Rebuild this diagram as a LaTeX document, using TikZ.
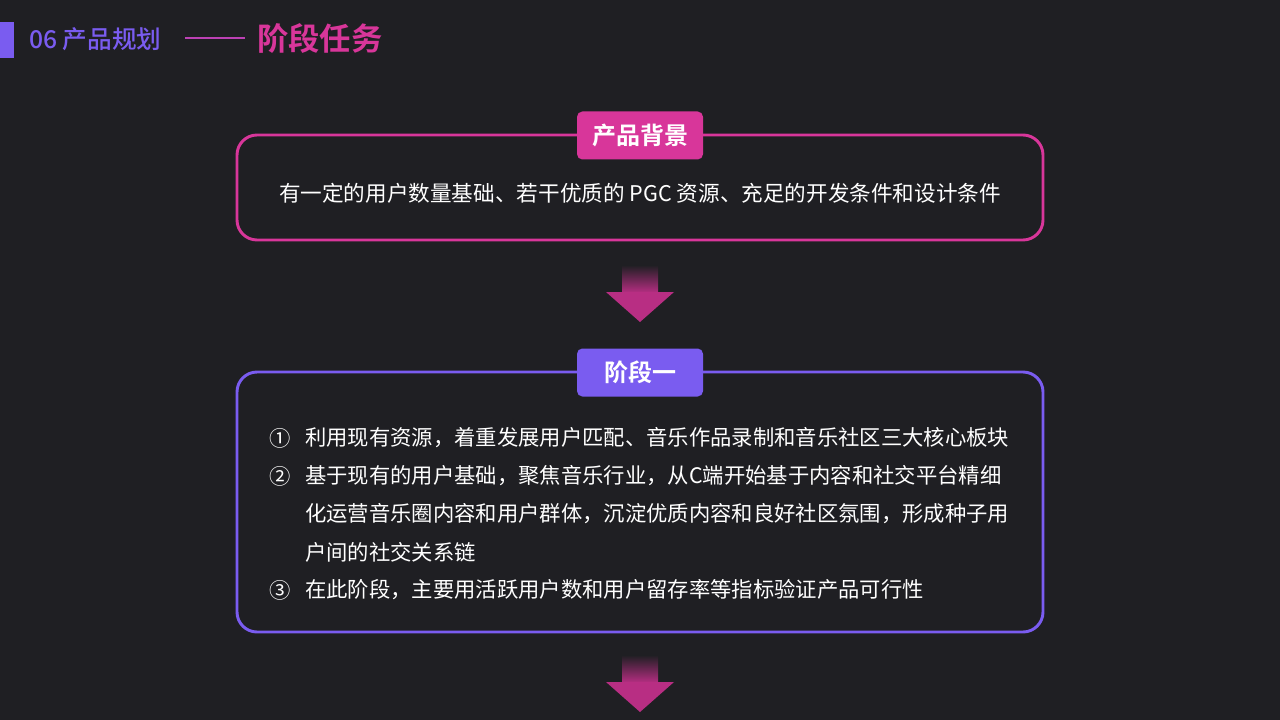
\documentclass[tikz,border=0pt]{standalone}
\usepackage{fontspec}
\setmainfont{Noto Sans CJK SC}
\newfontfamily\cjkb{Noto Sans CJK SC Bold}
\newfontfamily\cjkm{Noto Sans CJK SC Medium}
\usetikzlibrary{shadings}
\definecolor{bg}{HTML}{1F1F23}
\definecolor{mag}{HTML}{D8369A}
\definecolor{pur}{HTML}{7A5CF0}
\tikzset{
  panel/.style={draw, line width=2.2pt, rounded corners=15pt},
  tab/.style={rounded corners=4pt, minimum width=94.5pt, minimum height=36pt, text=white, font=\cjkb\fontsize{18}{20}\selectfont},
  body/.style={text=white, font=\fontsize{16}{18}\selectfont, anchor=west, inner sep=0pt},
}
\begin{document}
\begin{tikzpicture}[x=0.75pt,y=-0.75pt]
\fill[bg] (0,0) rectangle (1280,720);
\useasboundingbox (0,0) rectangle (1280,720);
% header
\fill[pur] (0,22) rectangle (14,58);
\node[anchor=west,inner sep=0pt,text=pur,font=\cjkm\fontsize{18.5}{20}\selectfont] (h1) at (29,39) {06 产品规划};
\coordinate (l1) at (185,38); \coordinate (l2) at (245,38);
\draw[mag!70!pur, line width=1pt] (l1) -- (l2);
\node[anchor=west,inner sep=0pt,text=mag,font=\cjkb\fontsize{23.5}{26}\selectfont] (h2) at (257,38) {阶段任务};
% box1
\draw[panel, mag] (237,135) rectangle (1043,240);
\node[tab, fill=mag] (t1) at (640,135.5) {产品背景};
\node[text=white,font=\fontsize{16.2}{18}\selectfont] (b1) at (640,193) {有一定的用户数量基础、若干优质的 PGC 资源、充足的开发条件和设计条件};
% arrow1
\shade[top color=bg, bottom color=mag!85!black] (622,265) rectangle (658,293);
\fill[mag!85!black] (606,292) -- (674,292) -- (640,322) -- cycle;
% box2
\draw[panel, pur] (237,372) rectangle (1043,632);
\node[tab, fill=pur] (t2) at (640,372.5) {阶段一};
\node[body] (n1) at (269,438) {①}; \node[body] (s1) at (305,438) {利用现有资源，着重发展用户匹配、音乐作品录制和音乐社区三大核心板块};
\node[body] (n2) at (269,476) {②}; \node[body] (s2) at (305,476) {基于现有的用户基础，聚焦音乐行业，从C端开始基于内容和社交平台精细};
\node[body] (s2b) at (305,514) {化运营音乐圈内容和用户群体，沉淀优质内容和良好社区氛围，形成种子用};
\node[body] (s2c) at (305,552) {户间的社交关系链};
\node[body] (n3) at (269,590) {③}; \node[body] (s3) at (305,590) {在此阶段，主要用活跃用户数和用户留存率等指标验证产品可行性};
% arrow2
\shade[top color=bg, bottom color=mag!85!black] (622,655) rectangle (658,683);
\fill[mag!85!black] (606,682) -- (674,682) -- (640,712) -- cycle;
\end{tikzpicture}
\end{document}
